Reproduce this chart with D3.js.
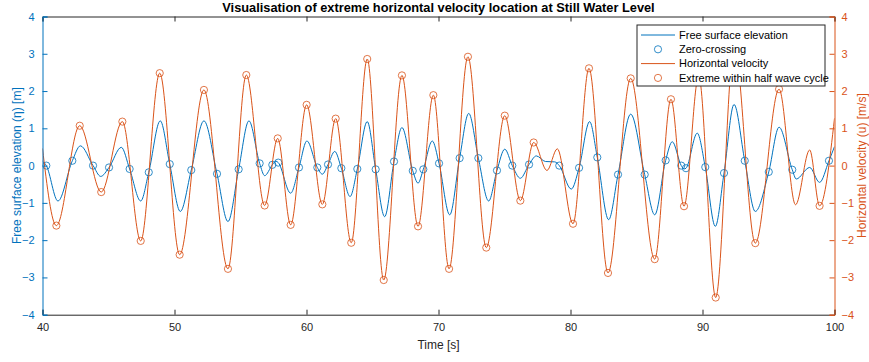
<!DOCTYPE html>
<html>
<head>
<meta charset="utf-8">
<script src="https://cdn.jsdelivr.net/npm/d3@7"></script>
<style>
  body { margin: 0; background: #fff; }
  svg { font-family: "Liberation Sans", Arial, Helvetica, sans-serif; }
</style>
</head>
<body>
<div id="view"></div>
<script>
// free surface elevation: peaks and troughs
const etaExtT = [40.0, 41.17, 42.87, 44.41, 45.97, 47.44, 48.92, 50.44, 52.23, 54.05, 55.64, 56.83, 57.68, 58.8,
  60.03, 61.2, 62.14, 63.3, 64.6, 65.92, 67.23, 68.45, 69.53, 70.85, 72.29, 73.8, 75.02, 76.2, 77.41, 78.1, 78.8,
  80.06, 81.45, 82.89, 84.56, 86.38, 87.71, 88.6, 89.6, 90.97, 92.39, 94.0, 95.8, 97.1, 98.12, 98.87, 100.0];
const etaExtV = [0.12, -0.95, 0.53, -0.29, 0.49, -0.95, 1.2, -1.23, 1.2, -1.5, 1.2, -0.27, 0.12, -0.74,
  0.66, -0.23, 0.38, -0.83, 1.18, -1.37, 1.02, -0.47, 0.66, -1.32, 1.4, -0.95, 0.44, -0.34, 0.26, 0.11, 0.1,
  -0.63, 1.18, -1.45, 1.38, -1.32, 0.64, -0.09, 0.87, -1.63, 1.64, -1.23, 1.03, -0.36, -0.05, -0.45, 0.51];

// zero-crossing markers
const zcT = [40.29, 42.26, 43.83, 45.04, 46.6, 48.05, 49.64, 51.27, 53.22, 54.86, 56.45, 57.41, 57.86, 59.43,
  60.82, 61.63, 62.64, 63.85, 65.24, 66.63, 68.05, 68.85, 70.04, 71.6, 73.02, 74.43, 75.59, 76.86, 79.15,
  80.65, 82.03, 83.6, 85.62, 87.21, 88.39, 88.75, 90.21, 91.63, 93.2, 95.02, 96.8, 99.58];
const zcV = [0.0, 0.13, 0.0, -0.05, -0.09, -0.18, 0.04, -0.12, -0.22, -0.1, 0.06, 0.02, 0.08, -0.05,
  -0.05, 0.03, -0.07, -0.09, -0.1, 0.11, -0.14, -0.1, 0.06, 0.2, 0.2, -0.13, 0.0, 0.03, 0.0,
  -0.06, 0.22, -0.24, -0.24, 0.14, 0.0, -0.07, -0.04, -0.2, 0.13, -0.17, -0.11, 0.13];

// horizontal velocity: turning points of the orange line
const uLineT = [40.0, 41.05, 42.82, 44.45, 46.05, 47.44, 48.88, 50.39, 52.23, 54.05, 55.44, 56.83, 57.82, 58.8,
  60.01, 61.2, 62.21, 63.39, 64.6, 65.85, 67.23, 68.45, 69.61, 70.8, 72.23, 73.62, 75.02, 76.2, 77.21, 78.22, 79.0,
  80.19, 81.4, 82.84, 84.56, 86.38, 87.61, 88.6, 89.71, 91.0, 92.4, 94.0, 95.8, 97.05, 98.12, 98.87, 100.0];
const uLineV = [0.46, -1.61, 1.07, -0.71, 1.18, -2.02, 2.48, -2.39, 2.03, -2.77, 2.43, -1.07, 0.73, -1.59,
  1.63, -1.04, 1.26, -2.07, 2.86, -3.07, 2.42, -1.63, 1.89, -2.77, 2.92, -2.2, 1.34, -0.94, 0.62, -0.13, 0.45,
  -1.56, 2.61, -2.88, 2.34, -2.51, 1.78, -1.09, 2.4, -3.54, 3.2, -2.08, 2.05, -1.05, 0.42, -1.08, 1.27];

// which turning points are marked as "extreme within half wave cycle"
const extremeIdx = [1, 2, 3, 4, 5, 6, 7, 8, 9, 10, 11, 12, 13, 14, 15, 16, 17, 18, 19, 20, 21, 22, 23, 24, 25,
  26, 27, 28, 31, 32, 33, 34, 35, 36, 37, 38, 39, 40, 41, 42, 45];

const xTicks = [40, 50, 60, 70, 80, 90, 100];
const yTicks = [-4, -3, -2, -1, 0, 1, 2, 3, 4];

const legendLabels = ["Free surface elevation", "Zero-crossing", "Horizontal velocity", "Extreme within half wave cycle"];

const BLUE = "#0072BD", ORANGE = "#D95319", DARK = "#262626";
const width = 869, height = 362;
const margin = { left: 42.5, right: 34.5, top: 16.5, bottom: 47.3 };

const svg = d3.select("#view").append("svg")
  .attr("width", width).attr("height", height);

const x = d3.scaleLinear().domain([40, 100]).range([margin.left, width - margin.right]);
const yL = d3.scaleLinear().domain([-4, 4]).range([height - margin.bottom, margin.top]);
const yR = d3.scaleLinear().domain([-4, 4]).range([height - margin.bottom, margin.top]);

const etaPts = etaExtT.map((t, i) => [t, etaExtV[i]])
  .concat(zcT.map((t, i) => [t, zcV[i]]))
  .sort((a, b) => a[0] - b[0]);
const uPts = uLineT.map((t, i) => [t, uLineV[i]]);

const plot = svg.append("g");
plot.append("clipPath").attr("id", "clip").append("rect")
  .attr("x", margin.left).attr("y", margin.top)
  .attr("width", width - margin.left - margin.right)
  .attr("height", height - margin.top - margin.bottom);

const lineEta = d3.line().x(d => x(d[0])).y(d => yL(d[1])).curve(d3.curveMonotoneX);
const lineU = d3.line().x(d => x(d[0])).y(d => yR(d[1])).curve(d3.curveMonotoneX);

const marks = plot.append("g").attr("clip-path", "url(#clip)");
marks.append("path").datum(etaPts).attr("d", lineEta)
  .attr("fill", "none").attr("stroke", BLUE).attr("stroke-width", 1);
marks.selectAll("circle.zc").data(zcT).enter().append("circle")
  .attr("class", "zc")
  .attr("cx", d => x(d)).attr("cy", (d, i) => yL(zcV[i])).attr("r", 3.6)
  .attr("fill", "none").attr("stroke", BLUE).attr("stroke-width", 0.8);
marks.append("path").datum(uPts).attr("d", lineU)
  .attr("fill", "none").attr("stroke", ORANGE).attr("stroke-width", 1);
marks.selectAll("circle.ex").data(extremeIdx).enter().append("circle")
  .attr("class", "ex")
  .attr("cx", d => x(uLineT[d])).attr("cy", d => yR(uLineV[d])).attr("r", 3.6)
  .attr("fill", "none").attr("stroke", ORANGE).attr("stroke-width", 0.8);

// axes, MATLAB style: ticks inside, box on
const bottomY = height - margin.bottom;
const xAxis = d3.axisBottom(x).tickValues(xTicks).tickSize(-5).tickPadding(9);
svg.append("g").attr("transform", `translate(0,${bottomY})`).call(xAxis)
  .call(g => g.selectAll("text").attr("font-size", 11).attr("fill", DARK))
  .call(g => g.selectAll("line,path").attr("stroke", DARK));
const xTop = d3.axisTop(x).tickValues(xTicks).tickSize(-5).tickFormat("");
svg.append("g").attr("transform", `translate(0,${margin.top})`).call(xTop)
  .call(g => g.selectAll("line,path").attr("stroke", DARK));

const yAxisL = d3.axisLeft(yL).tickValues(yTicks).tickSize(-5).tickPadding(8);
svg.append("g").attr("transform", `translate(${margin.left},0)`).call(yAxisL)
  .call(g => g.selectAll("text").attr("font-size", 11).attr("fill", BLUE))
  .call(g => g.selectAll("line,path").attr("stroke", BLUE));
const yAxisR = d3.axisRight(yR).tickValues(yTicks).tickSize(-5).tickPadding(7);
svg.append("g").attr("transform", `translate(${width - margin.right},0)`).call(yAxisR)
  .call(g => g.selectAll("text").attr("font-size", 11).attr("fill", ORANGE))
  .call(g => g.selectAll("line,path").attr("stroke", ORANGE));
svg.selectAll(".domain").attr("stroke-width", 1);

// titles
svg.append("text").attr("x", (margin.left + width - margin.right) / 2).attr("y", 12)
  .attr("text-anchor", "middle").attr("font-size", 12.8).attr("font-weight", "bold").attr("fill", "#000")
  .text("Visualisation of extreme horizontal velocity location at Still Water Level");
svg.append("text").attr("x", (margin.left + width - margin.right) / 2).attr("y", 349)
  .attr("text-anchor", "middle").attr("font-size", 12).attr("fill", DARK).text("Time [s]");
svg.append("text").attr("transform", `translate(21,${yL(0)}) rotate(-90)`)
  .attr("text-anchor", "middle").attr("font-size", 12).attr("fill", BLUE)
  .text("Free surface elevation (\u03b7) [m]");
svg.append("text").attr("transform", `translate(866,${yR(0)}) rotate(-90)`)
  .attr("text-anchor", "middle").attr("font-size", 12).attr("fill", ORANGE)
  .text("Horizontal velocity (u) [m/s]");

// legend
const lg = svg.append("g").attr("transform", "translate(637,25)");
lg.append("rect").attr("width", 188).attr("height", 61)
  .attr("fill", "#fff").attr("stroke", DARK).attr("stroke-width", 1);
const rows = lg.selectAll("g.row").data(legendLabels).enter().append("g")
  .attr("class", "row").attr("transform", (d, i) => `translate(0,${10 + i * 14.3})`);
rows.each(function (d, i) {
  const r = d3.select(this);
  const col = i < 2 ? BLUE : ORANGE;
  if (i % 2 === 0) {
    r.append("line").attr("x1", 4).attr("x2", 38).attr("stroke", col).attr("stroke-width", 1);
  } else {
    r.append("circle").attr("cx", 21).attr("r", 3.6).attr("fill", "none").attr("stroke", col).attr("stroke-width", 0.8);
  }
  r.append("text").attr("x", 42).attr("dy", "0.35em").attr("font-size", 11).attr("fill", "#000").text(d);
});
</script>
</body>
</html>
